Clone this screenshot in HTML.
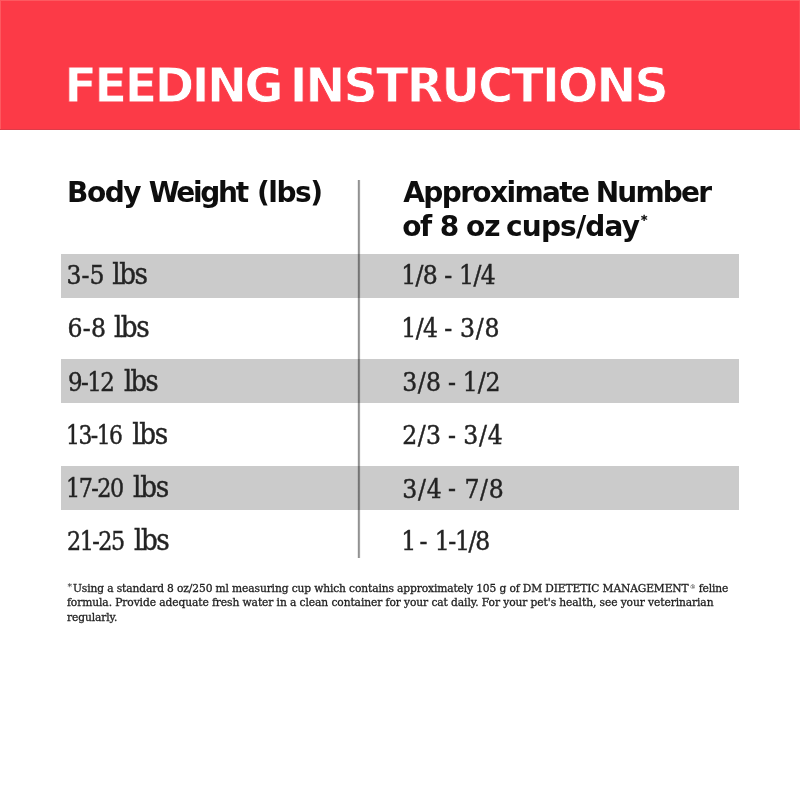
<!DOCTYPE html>
<html lang="en">
<head>
<meta charset="utf-8">
<title>Feeding Instructions</title>
<style>
  html, body { margin: 0; padding: 0; }
  body { width: 800px; height: 800px; background: #fff; position: relative; overflow: hidden;
         font-family: "Liberation Sans", sans-serif; color: #1a1a1a; }
  span { position: absolute; top: 0; white-space: pre; transform-origin: 0 50%; }
  span.sm { -webkit-text-stroke: 0; }
  .band { position: absolute; left: 0; top: 0; width: 800px; height: 129px; background: #fc3a47;
          border-bottom: 1px solid #dc3c49; box-shadow: inset 1px 1px 0 #fd5960, inset -1px 0 0 #fd4d57; }
  .title { position: absolute; left: 0; width: 800px; height: 56px; margin: 0;
           font-family: "DejaVu Sans", "Liberation Sans", sans-serif; font-size: 47.5px; line-height: 56px; font-weight: bold; color: #fff; -webkit-text-stroke: 0.8px #fc3a47; }
  .h { position: absolute; left: 0; width: 800px; height: 34px; margin: 0; font-family: "DejaVu Sans", "Liberation Sans", sans-serif;
       font-weight: bold; font-size: 28px; line-height: 34px; color: #0e0e0e; }
  .h span.sm { -webkit-text-stroke: 0.35px #0e0e0e; }
  .row { position: absolute; left: 61px; width: 678.4px; }
  .row.g { background: #cbcbcb; }
  .cell { position: absolute; left: -61px; width: 800px; height: 40px; font-family: "DejaVu Serif Condensed", "DejaVu Serif", "Liberation Serif", serif;
          font-size: 26.2px; line-height: 40px; color: #232323; -webkit-text-stroke: 0.4px #232323; }
  .vline { position: absolute; left: 357px; top: 180px; width: 4px; height: 377.5px;
           background: linear-gradient(to right, rgba(0,0,0,.08) 0 1px, rgba(0,0,0,.43) 1px 2px, rgba(0,0,0,.36) 2px 3px, rgba(0,0,0,.04) 3px 4px); }
  .foot { position: absolute; left: 0; width: 800px; height: 15px; margin: 0; font-family: "DejaVu Serif", "Liberation Serif", serif;
          font-size: 10.7px; line-height: 15px; color: #1f1f1f; -webkit-text-stroke: 0.3px #1f1f1f; }
</style>
</head>
<body>
  <div class="band"></div>
  <h1 class="title" style="top:57.7px"><span style="left:64.5px;letter-spacing:-2.366px">FEEDING</span> <span style="left:289.7px;letter-spacing:-1.768px">INSTRUCTIONS</span></h1>

  <p class="h" style="top:175.5px"><span style="left:67px;letter-spacing:-1.457px">Body</span> <span style="left:148.75px;letter-spacing:-2.290px">Weight</span> <span style="left:257px;letter-spacing:-1.463px">(lbs)</span></p>
  <p class="h" style="top:175.5px"><span style="left:403.25px;letter-spacing:-1.616px">Approximate</span> <span style="left:595.75px;letter-spacing:-1.815px">Number</span></p>
  <p class="h" style="top:209.5px"><span style="left:402.25px;letter-spacing:-1.486px">of</span> <span style="left:439.75px">8</span> <span style="left:466px;letter-spacing:-0.986px">oz</span> <span style="left:506px;letter-spacing:-0.828px">cups/day</span><span class="sm" style="left:641.01px;top:-6.92px;font-size:12.24px">*</span></p>

  <div class="row g" style="top:254px;height:43.75px"><div class="cell" style="top:0.7px"><span style="left:66.5px;top:0.6px;letter-spacing:0.080px">3-5</span> <span style="left:112.3px;top:-1px;font-size:29.2px;letter-spacing:-1.499px">lbs</span> <span style="left:401.25px;letter-spacing:-0.738px">1/8</span> <span style="left:444.25px">-</span> <span style="left:459px;letter-spacing:-0.588px">1/4</span></div></div>
  <div class="row" style="top:307px;height:44px"><div class="cell" style="top:0.7px"><span style="left:67.5px;letter-spacing:0.230px">6-8</span> <span style="left:113.9px;top:-1px;font-size:29.2px;letter-spacing:-1.424px">lbs</span> <span style="left:401.25px;letter-spacing:-0.588px">1/4</span> <span style="left:444.25px">-</span> <span style="left:460px;top:0.8px;letter-spacing:0.787px">3/8</span></div></div>
  <div class="row g" style="top:359px;height:43.6px"><div class="cell" style="top:2.5px"><span style="left:67.63px;top:0.4px;letter-spacing:-1.600px;transform:scaleX(0.9728)">9-12</span> <span style="left:123.9px;top:-1px;font-size:29.2px;letter-spacing:-1.600px;transform:scaleX(0.9744)">lbs</span> <span style="left:402.25px;top:0.8px;letter-spacing:0.412px">3/8</span> <span style="left:448px">-</span> <span style="left:462.75px;letter-spacing:-0.088px">1/2</span></div></div>
  <div class="row" style="top:413px;height:44px"><div class="cell" style="top:1.5px"><span style="left:65.85px;letter-spacing:-1.600px;transform:scaleX(0.9246)">13-16</span> <span style="left:132.2px;top:-1px;font-size:29.2px;letter-spacing:-1.324px">lbs</span> <span style="left:402.25px;top:0.8px;letter-spacing:0.412px">2/3</span> <span style="left:448px">-</span> <span style="left:463.3px;top:0.8px;letter-spacing:0.787px">3/4</span></div></div>
  <div class="row g" style="top:466px;height:44px"><div class="cell" style="top:2px"><span style="left:65.61px;letter-spacing:-1.600px;transform:scaleX(0.9451)">17-20</span> <span style="left:133px;top:-1px;font-size:29.2px;letter-spacing:-1.249px">lbs</span> <span style="left:402.25px;top:0.8px;letter-spacing:0.787px">3/4</span> <span style="left:448px">-</span> <span style="left:464.5px;top:0.8px;letter-spacing:0.637px">7/8</span></div></div>
  <div class="row" style="top:519px;height:44px"><div class="cell" style="top:2.2px"><span style="left:66.56px;letter-spacing:-1.600px;transform:scaleX(0.9443)">21-25</span> <span style="left:134px;top:-1px;font-size:29.2px;letter-spacing:-1.474px">lbs</span> <span style="left:401.25px">1</span> <span style="left:419.5px">-</span> <span style="left:434.7px;letter-spacing:-1.342px">1-1/8</span></div></div>

  <div class="vline"></div>

  <p class="foot" style="top:580.6px"><span class="sm" style="left:67.51px;top:-1.33px;font-size:9.17px">*</span><span style="left:73px;letter-spacing:-0.134px">Using a standard 8 oz/250 ml measuring cup which contains approximately 105 g of DM DIETETIC MANAGEMENT</span><span class="sm" style="left:689.71px;top:-1.82px;font-size:6.08px">®</span> <span style="left:698.75px;letter-spacing:-0.130px">feline</span></p>
  <p class="foot" style="top:595.3px"><span style="left:67px;letter-spacing:-0.097px">formula. Provide adequate fresh water in a clean container for your cat daily. For your pet's health, see your veterinarian</span></p>
  <p class="foot" style="top:610.3px"><span style="left:67px;letter-spacing:-0.121px">regularly.</span></p>
</body>
</html>
